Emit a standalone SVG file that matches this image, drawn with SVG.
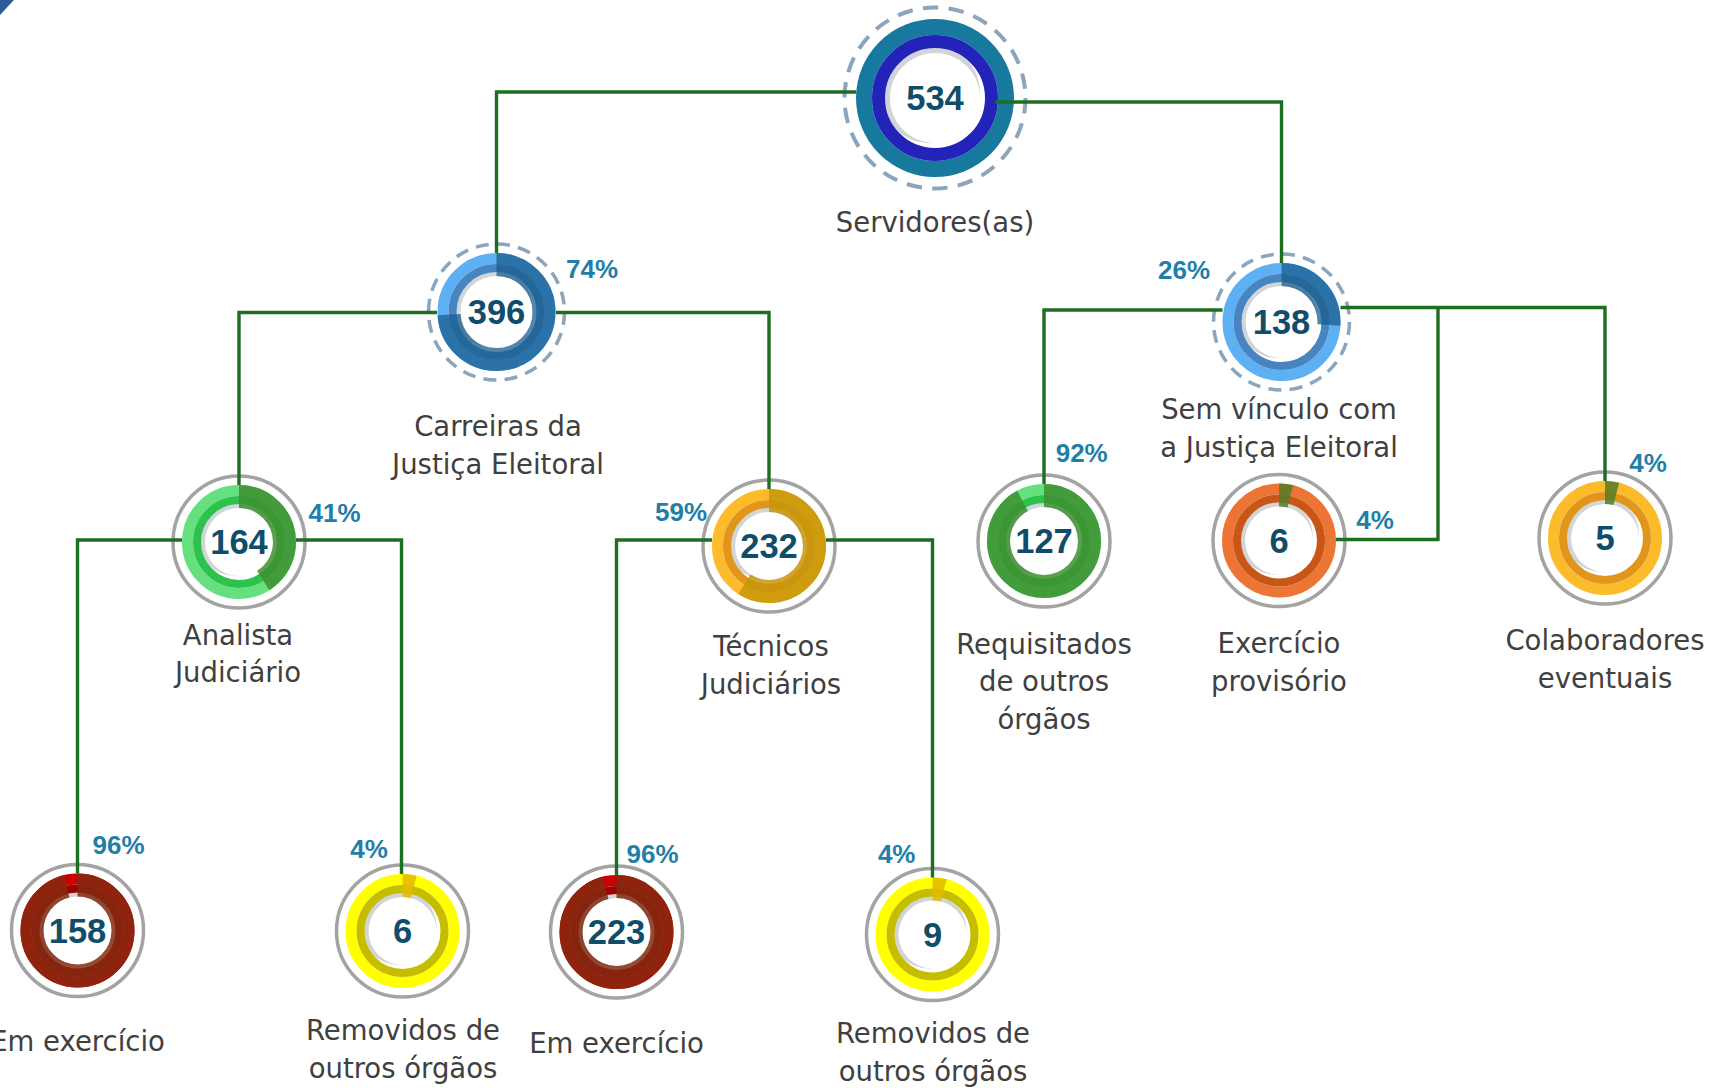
<svg xmlns="http://www.w3.org/2000/svg" width="1717" height="1088" viewBox="0 0 1717 1088">
<style>
.lbl{font-family:"DejaVu Sans",sans-serif;font-size:27.5px;fill:#404040;text-anchor:middle}
.num{font-family:"Liberation Sans",Arial,sans-serif;font-weight:bold;font-size:34.5px;fill:#0f4d6b;text-anchor:middle}
.pct{font-family:"Liberation Sans",Arial,sans-serif;font-weight:bold;font-size:26px;fill:#1f7fa8;text-anchor:middle}
.conn{fill:none;stroke:#1e6e22;stroke-width:3.4}
.halo{fill:none;stroke:#a3a3a3;stroke-width:3.5}
.dash{fill:none;stroke:#8ba5bc;stroke-width:3.5;stroke-dasharray:13 8.36}
.shadow{fill:#d1d5d8}
.core{fill:#fff}
.ring{fill:none}
.o11{stroke-width:11}
.i8{stroke-width:8}
.ov{fill:none;stroke-width:23}
</style>
<rect width="1717" height="1088" fill="#fff"/>
<polygon points="0,0 14,0 0,15" fill="#2e5c99"/>

<g id="n534" transform="translate(935,98)">
<circle r="90.5" fill="none" stroke="#8ba5bc" stroke-width="4" stroke-dasharray="15.5 10.35"/>
<circle class="shadow" cx="-5" cy="-5" r="50"/>
<circle class="core" r="45"/>
<circle class="ring" r="71" stroke="#18799f" stroke-width="16"/>
<circle class="ring" r="56.5" stroke="#2323b9" stroke-width="13"/>
<text class="num" y="12">534</text>
<text class="lbl" y="134">Servidores(as)</text>
</g>

<g id="n396" transform="translate(496.5,312)">
<circle class="dash" r="68"/>
<circle class="shadow" cx="-4" cy="-4" r="40"/>
<circle class="core" r="36"/>
<circle class="ring o11" r="53.5" stroke="#5cb0f3"/>
<circle class="ring i8" r="44" stroke="#4684c2"/>
<circle class="ov" r="47.5" stroke="#1a5e8e" stroke-opacity=".75" stroke-dasharray="220.85 400" transform="rotate(-90)"/>
<text class="num" y="12">396</text>
<text class="lbl" x="1.5" y="124">Carreiras da</text>
<text class="lbl" x="1.5" y="162">Justiça Eleitoral</text>
</g>

<g id="n138" transform="translate(1281.5,322)">
<circle class="dash" r="68"/>
<circle class="shadow" cx="-4" cy="-4" r="40"/>
<circle class="core" r="36"/>
<circle class="ring o11" r="53.5" stroke="#5cb0f3"/>
<circle class="ring i8" r="44" stroke="#4684c2"/>
<circle class="ov" r="47.5" stroke="#1a5e8e" stroke-opacity=".75" stroke-dasharray="77.6 400" transform="rotate(-90)"/>
<text class="num" y="12">138</text>
<text class="lbl" x="-2.5" y="97">Sem vínculo com</text>
<text class="lbl" x="-2.5" y="135">a Justiça Eleitoral</text>
</g>

<g id="n164" transform="translate(239,542)">
<circle class="halo" r="66"/>
<circle class="shadow" cx="-4" cy="-4" r="38"/>
<circle class="core" r="34"/>
<circle class="ring o11" r="51.5" stroke="#66e07e"/>
<circle class="ring i8" r="42" stroke="#2dc24b"/>
<circle class="ov" r="45.5" stroke="#3d8f30" stroke-opacity=".85" stroke-dasharray="117.21 400" transform="rotate(-90)"/>
<text class="num" y="12">164</text>
<text class="lbl" x="-1" y="103">Analista</text>
<text class="lbl" x="-1" y="140">Judiciário</text>
</g>

<g id="n232" transform="translate(769,546)">
<circle class="halo" r="66"/>
<circle class="shadow" cx="-4" cy="-4" r="38"/>
<circle class="core" r="34"/>
<circle class="ring o11" r="51.5" stroke="#fbbb2b"/>
<circle class="ring i8" r="42" stroke="#e2951b"/>
<circle class="ov" r="45.5" stroke="#c7950a" stroke-opacity=".85" stroke-dasharray="168.67 400" transform="rotate(-90)"/>
<text class="num" y="12">232</text>
<text class="lbl" x="2" y="110">Técnicos</text>
<text class="lbl" x="2" y="148">Judiciários</text>
</g>

<g id="n127" transform="translate(1044,541)">
<circle class="halo" r="66"/>
<circle class="shadow" cx="-4" cy="-4" r="38"/>
<circle class="core" r="34"/>
<circle class="ring o11" r="51.5" stroke="#66e07e"/>
<circle class="ring i8" r="42" stroke="#2dc24b"/>
<circle class="ov" r="45.5" stroke="#3d8f30" stroke-opacity=".85" stroke-dasharray="263.01 400" transform="rotate(-90)"/>
<text class="num" y="12">127</text>
<text class="lbl" y="113">Requisitados</text>
<text class="lbl" y="150">de outros</text>
<text class="lbl" y="188">órgãos</text>
</g>

<g id="n6ex" transform="translate(1279,540.5)">
<circle class="halo" r="66"/>
<circle class="shadow" cx="-4" cy="-4" r="38"/>
<circle class="core" r="34"/>
<circle class="ring o11" r="51.5" stroke="#ec7535"/>
<circle class="ring i8" r="42" stroke="#c75617"/>
<circle class="ov" r="45.5" stroke="#547d25" stroke-opacity=".85" stroke-dasharray="11.44 400" transform="rotate(-90)"/>
<text class="num" y="12">6</text>
<text class="lbl" y="112">Exercício</text>
<text class="lbl" y="150">provisório</text>
</g>

<g id="n5" transform="translate(1605,538)">
<circle class="halo" r="66"/>
<circle class="shadow" cx="-4" cy="-4" r="38"/>
<circle class="core" r="34"/>
<circle class="ring o11" r="51.5" stroke="#fbbb2b"/>
<circle class="ring i8" r="42" stroke="#e2951b"/>
<circle class="ov" r="45.5" stroke="#547d25" stroke-opacity=".85" stroke-dasharray="11.44 400" transform="rotate(-90)"/>
<text class="num" y="12">5</text>
<text class="lbl" y="112">Colaboradores</text>
<text class="lbl" y="150">eventuais</text>
</g>

<g id="n158" transform="translate(77.5,930.5)">
<circle class="halo" r="66"/>
<circle class="shadow" cx="-4" cy="-4" r="38"/>
<circle class="core" r="34"/>
<circle class="ring o11" r="51.5" stroke="#cc0000"/>
<circle class="ring i8" r="42" stroke="#a00000"/>
<circle class="ov" r="45.5" stroke="#832a10" stroke-opacity=".85" stroke-dasharray="274.44 400" transform="rotate(-90)"/>
<text class="num" y="12">158</text>
<text class="lbl" y="120">Em exercício</text>
</g>

<g id="n6rem" transform="translate(402.5,931)">
<circle class="halo" r="66"/>
<circle class="shadow" cx="-4" cy="-4" r="38"/>
<circle class="core" r="34"/>
<circle class="ring o11" r="51.5" stroke="#ffff00"/>
<circle class="ring i8" r="42" stroke="#c6bd00"/>
<circle class="ov" r="45.5" stroke="#e4ba00" stroke-opacity=".85" stroke-dasharray="11.44 400" transform="rotate(-90)"/>
<text class="num" y="12">6</text>
<text class="lbl" x="0.5" y="109">Removidos de</text>
<text class="lbl" x="0.5" y="147">outros órgãos</text>
</g>

<g id="n223" transform="translate(616.5,932)">
<circle class="halo" r="66"/>
<circle class="shadow" cx="-4" cy="-4" r="38"/>
<circle class="core" r="34"/>
<circle class="ring o11" r="51.5" stroke="#cc0000"/>
<circle class="ring i8" r="42" stroke="#a00000"/>
<circle class="ov" r="45.5" stroke="#832a10" stroke-opacity=".85" stroke-dasharray="274.44 400" transform="rotate(-90)"/>
<text class="num" y="12">223</text>
<text class="lbl" y="121">Em exercício</text>
</g>

<g id="n9" transform="translate(932.5,934.5)">
<circle class="halo" r="66"/>
<circle class="shadow" cx="-4" cy="-4" r="38"/>
<circle class="core" r="34"/>
<circle class="ring o11" r="51.5" stroke="#ffff00"/>
<circle class="ring i8" r="42" stroke="#c6bd00"/>
<circle class="ov" r="45.5" stroke="#e4ba00" stroke-opacity=".85" stroke-dasharray="11.44 400" transform="rotate(-90)"/>
<text class="num" y="12">9</text>
<text class="lbl" x="0.5" y="108.5">Removidos de</text>
<text class="lbl" x="0.5" y="146.5">outros órgãos</text>
</g>

<g id="connectors">
<path class="conn" d="M856,92 H496.5 V253"/>
<path class="conn" d="M995,102 H1281.5 V263"/>
<path class="conn" d="M437,312.5 H239 V485"/>
<path class="conn" d="M556,312.5 H769 V489"/>
<path class="conn" d="M182,540 H77.5 V873.5"/>
<path class="conn" d="M296,540 H401.5 V874"/>
<path class="conn" d="M712,540 H616.5 V875"/>
<path class="conn" d="M826,540 H932.5 V877.5"/>
<path class="conn" d="M1222.5,310 H1044 V484"/>
<path class="conn" d="M1340.5,307.5 H1605 V481"/>
<path class="conn" d="M1438,307.5 V539.5 H1336"/>
</g>

<g id="percentages">
<text class="pct" x="592" y="278">74%</text>
<text class="pct" x="1184" y="279">26%</text>
<text class="pct" x="334.5" y="521.5">41%</text>
<text class="pct" x="681" y="520.7">59%</text>
<text class="pct" x="1081.7" y="461.5">92%</text>
<text class="pct" x="1375" y="529">4%</text>
<text class="pct" x="1648" y="472">4%</text>
<text class="pct" x="118.5" y="854">96%</text>
<text class="pct" x="369" y="858">4%</text>
<text class="pct" x="652.5" y="863">96%</text>
<text class="pct" x="896.7" y="863">4%</text>
</g>
</svg>
